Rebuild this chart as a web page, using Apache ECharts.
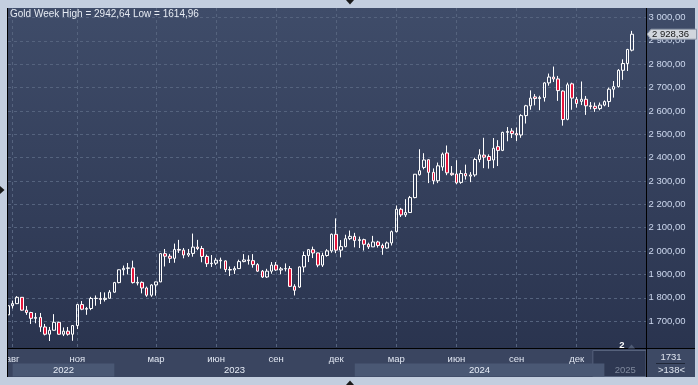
<!DOCTYPE html>
<html><head><meta charset="utf-8">
<script src="https://cdn.jsdelivr.net/npm/echarts@6/dist/echarts.min.js"></script>
<style>html,body{margin:0;padding:0;background:#c3cedf;overflow:hidden}#c{width:698px;height:385px}</style>
</head><body><div id="c"></div><script>
// ---- data (weekly Gold candles) ----
const titleText = 'Gold Week High = 2942,64 Low = 1614,96';
const opens = [1727,1766,1775,1802,1747,1737,1712,1716,1675,1644,1661,1695,1644,1657,1644,1681,1771,1751,1754,1797,
1797,1793,1798,1824,1865,1920,1926,1928,1863,1866,1842,1811,1855,1868,1989,1978,1969,2007,2004,1983,
1990,2017,2011,1977,1946,1948,1961,1958,1921,1919,1925,1955,1962,1959,1942,1914,1889,1914,1940,1919,
1924,1925,1849,1846,1932,1981,2006,1992,1940,1981,2001,2072,2004,2019,2053,2063,2045,2049,2029,2018,
2039,2024,2013,2035,2083,2179,2155,2165,2229,2327,2358,2391,2337,2301,2360,2420,2333,2330,2294,2332,
2321,2326,2392,2411,2405,2390,2447,2431,2508,2514,2503,2497,2580,2622,2660,2653,2657,2720,2745,2737,
2685,2564,2716,2650,2641,2650,2622,2620,2610,2625,2640,2693,2704,2774,2803,2860];
const closes = [1766,1775,1802,1747,1737,1712,1716,1675,1644,1661,1695,1644,1657,1644,1681,1771,1751,1754,1797,1798,
1793,1798,1824,1865,1920,1926,1928,1865,1866,1842,1811,1855,1868,1989,1978,1969,2007,2004,1983,1990,
2017,2011,1977,1946,1948,1961,1958,1921,1919,1925,1955,1962,1959,1942,1914,1889,1914,1940,1919,1924,
1925,1849,1832,1932,1981,2006,1992,1940,1981,2001,2072,2004,2019,2053,2063,2045,2049,2029,2018,2039,
2024,2013,2035,2083,2179,2155,2165,2229,2329,2344,2390,2337,2301,2365,2415,2335,2327,2292,2332,2322,
2326,2392,2412,2402,2388,2440,2431,2508,2512,2503,2497,2580,2622,2655,2653,2657,2720,2745,2737,2687,
2563,2712,2655,2632,2650,2622,2619,2610,2625,2640,2693,2704,2774,2803,2863,2928.36];
const lows = [1711,1754,1773,1745,1727,1688,1691,1654,1639,1614.96,1660,1642,1636,1638,1616,1666,1747,1727,1747,1766,
1773,1784,1797,1822,1862,1896,1900,1861,1853,1819,1804,1804,1809,1867,1934,1949,1950,1992,1969,1975,
1976,2004,1952,1932,1932,1940,1925,1910,1893,1902,1923,1952,1942,1929,1911,1885,1885,1903,1915,1901,
1913,1846,1810,1842,1909,1953,1970,1931,1932,1976,1993,1991,1973,2016,2047,2016,2013,2002,2009,2018,
2015,1984,2010,2024,2080,2146,2146,2164,2226,2323,2350,2291,2286,2291,2344,2325,2322,2286,2288,2306,
2295,2318,2380,2355,2353,2355,2364,2428,2470,2484,2471,2485,2546,2605,2624,2603,2640,2708,2724,2643,
2537,2560,2605,2614,2625,2583,2607,2596,2603,2620,2617,2657,2700,2733,2771,2855];
const highs = [1767,1788,1807,1803,1765,1740,1735,1735,1688,1675,1730,1697,1673,1675,1682,1774,1786,1761,1804,1810,
1824,1823,1833,1868,1921,1938,1949,1959,1890,1870,1848,1858,1869,1990,2009,1988,2032,2048,2013,2009,
2075,2048,2022,1985,1983,1971,1972,1960,1934,1935,1963,1987,1982,1987,1948,1919,1924,1953,1953,1932,
1947,1936,1858,1934,1997,2009,2019,1993,1993,2008,2075,2140,2047,2070,2088,2078,2062,2053,2036,2065,
2044,2032,2041,2088,2195,2185,2222,2236,2330,2436,2419,2393,2354,2379,2422,2452,2364,2389,2346,2370,
2338,2400,2436,2485,2414,2484,2475,2511,2531,2526,2529,2586,2626,2688,2672,2665,2723,2760,2790,2750,
2688,2721,2721,2660,2726,2664,2638,2636,2636,2645,2700,2728,2779,2821,2866,2942.64];
const slotCount = 139;                 // visible slots (incl. empty ones at the right)
const monthTickIndex  = [1,15,32,45,58,71,84,97,110,123];
const monthTickLabels = ['авг','ноя','мар','июн','сен','дек','мар','июн','сен','дек'];
const yearLabels      = ['2022','2023','2024','2025'];
const yearStartIndex  = [1,23,75,129];
const yMin = 1600, yMax = 3000, yStep = 100;
const barCountText = '1731', visibleText = '>138<', markerText = '2';

// ---- build ----
const categories = [];
for (let i = 0; i < slotCount; i++) {
  const d = new Date(Date.UTC(2022, 6, 25 + 7 * i));
  categories.push(d.toISOString().slice(0, 10));
}
const candles = opens.map((o, i) => [o, closes[i], lows[i], highs[i]]);
function fmtPrice(v) {
  if (v === yMin) return '';
  const p = Number(v).toFixed(2).split('.');
  return p[0].replace(/\B(?=(\d{3})+(?!\d))/g, ' ') + ',' + p[1];
}
const FONT = 'Liberation Sans';
const FS = 9.5;
const gridLine = { color: '#55637e', type: [3, 3], width: 1 };
const chart = echarts.init(document.getElementById('c'), null, { renderer: 'canvas', width: 698, height: 385 });
chart.setOption({
  animation: false,
  title: { text: titleText, left: 10, top: 9.5, padding: 0,
    textStyle: { fontSize: 10, fontWeight: 'normal', color: '#e6ebf3', fontFamily: FONT } },
  grid: [
    { left: 8, right: 52, top: 17.5, bottom: 40.5 },
    { left: 8, right: 52, top: 8, bottom: 36.5 }
  ],
  xAxis: [
    { type: 'category', gridIndex: 0, data: categories, boundaryGap: false, show: false },
    { type: 'category', gridIndex: 1, data: categories, boundaryGap: false,
      axisLine: { show: true, lineStyle: { color: '#000000', width: 1 } },
      axisTick: { show: false },
      axisLabel: { interval: (i) => monthTickIndex.includes(i),
        formatter: (v, i) => { const j = monthTickIndex.indexOf(i); return j < 0 ? '' : monthTickLabels[j]; },
        color: '#e0e6f1', fontSize: FS, fontFamily: FONT, margin: 5.5 },
      splitLine: { show: true, interval: (i) => monthTickIndex.includes(i), lineStyle: gridLine } }
  ],
  yAxis: [
    { type: 'value', gridIndex: 0, position: 'right', min: yMin, max: yMax, interval: yStep,
      axisLine: { show: false }, axisTick: { show: false },
      splitLine: { show: true, showMinLine: false, lineStyle: gridLine },
      axisLabel: { margin: 2.5, fontSize: FS, color: '#cdd8ee', fontFamily: FONT, formatter: fmtPrice } },
    { type: 'value', gridIndex: 1, show: false, min: 0, max: 1 }
  ],
  series: [{
    type: 'candlestick', xAxisIndex: 0, yAxisIndex: 0, data: candles, barWidth: 3, clip: true,
    itemStyle: { color: 'rgba(0,0,0,0)', color0: '#e5153b', borderColor: '#ffffff', borderColor0: '#ffffff', borderWidth: 1 }
  }]
});

// ---- panels / decorations positioned via the axes ----
const X = (i) => chart.convertToPixel({ xAxisIndex: 1 }, i);
const half = (X(1) - X(0)) / 2;
const lastClose = closes[closes.length - 1];
const yc = chart.convertToPixel({ yAxisIndex: 0 }, lastClose);
const grad = { type: 'linear', x: 0, y: 0, x2: 0, y2: 1,
  colorStops: [{ offset: 0, color: '#3f4c69' }, { offset: 1, color: '#2a344f' }] };
const g = [];
g.push({ type: 'rect', silent: true, z: -20, shape: { x: 8, y: 8, width: 638.5, height: 340.5 }, style: { fill: grad } });
g.push({ type: 'rect', silent: true, z: -20, shape: { x: 646.5, y: 8, width: 48.5, height: 340.5 }, style: { fill: grad } });
g.push({ type: 'rect', silent: true, z: -20, shape: { x: 8, y: 348.5, width: 638.5, height: 28.5 }, style: { fill: '#3a4560' } });
g.push({ type: 'rect', silent: true, z: -20, shape: { x: 646.5, y: 348.5, width: 48.5, height: 28.5 }, style: { fill: '#3d4964' } });
// 2025 box
g.push({ type: 'rect', silent: true, z: -15, shape: { x: X(127) - half, y: 350.5, width: 646 - (X(127) - half), height: 26 },
  style: { fill: '#2e3852', stroke: '#56627c', lineWidth: 1 } });
// year bands (alternate)
[0, 2].forEach((k) => {
  g.push({ type: 'rect', silent: true, z: -12, shape: { x: X(yearStartIndex[k]), y: 363.5, width: X(yearStartIndex[k + 1]) - X(yearStartIndex[k]), height: 13 },
    style: { fill: '#4a5874' } });
});
for (let k = 0; k < yearLabels.length; k++) {
  const x0 = X(yearStartIndex[k]);
  const x1 = k + 1 < yearLabels.length ? X(yearStartIndex[k + 1]) : 646;
  g.push({ type: 'text', silent: true, z: 5, x: (x0 + x1) / 2, y: 370,
    style: { text: yearLabels[k], fill: k === 3 ? '#7f899d' : '#e6ecf6', font: FS + 'px ' + FONT, align: 'center', verticalAlign: 'middle' } });
}
// frame mask on the left + separators
g.push({ type: 'rect', silent: true, z: 50, shape: { x: 0, y: 0, width: 7.5, height: 385 }, style: { fill: '#c3cedf' } });
const line = (x1, y1, x2, y2) => g.push({ type: 'line', silent: true, z: 51, shape: { x1, y1, x2, y2 }, style: { stroke: '#000000', lineWidth: 1 } });
line(7.5, 8, 7.5, 377);
line(646.5, 8, 646.5, 377);
line(646, 348.5, 695, 348.5);
// splitter handles
const tri = (pts) => g.push({ type: 'polygon', silent: true, z: 52, shape: { points: pts }, style: { fill: '#1a1a1a' } });
tri([[346, 0], [354, 0], [350, 4.5]]);
tri([[346, 385], [354, 385], [350, 380.5]]);
tri([[0, 186], [0, 194], [4.5, 190]]);
// event marker
g.push({ type: 'text', silent: true, z: 6, x: 622, y: 345.5,
  style: { text: markerText, fill: '#ffffff', font: 'bold ' + FS + 'px ' + FONT, align: 'center', verticalAlign: 'middle' } });
g.push({ type: 'polygon', silent: true, z: 6, shape: { points: [[628, 348.5], [631.5, 344.5], [635, 348.5]] }, style: { fill: '#4f5b75' } });
// bottom-right info
g.push({ type: 'text', silent: true, z: 6, x: 671, y: 357.5,
  style: { text: barCountText, fill: '#dfe5ef', font: FS + 'px ' + FONT, align: 'center', verticalAlign: 'middle' } });
g.push({ type: 'line', silent: true, z: 6, shape: { x1: 656, y1: 363.5, x2: 685, y2: 363.5 }, style: { stroke: '#1f2738', lineWidth: 1 } });
g.push({ type: 'text', silent: true, z: 6, x: 671.5, y: 370.5,
  style: { text: visibleText, fill: '#dfe5ef', font: FS + 'px ' + FONT, align: 'center', verticalAlign: 'middle' } });
// last price label
g.push({ type: 'polygon', silent: true, z: 20, shape: { points: [[647, yc], [651, yc - 5], [696.5, yc - 5], [696.5, yc + 5], [651, yc + 5]] },
  style: { fill: '#d2d6dd', stroke: '#8e97a8', lineWidth: 1 } });
g.push({ type: 'text', silent: true, z: 21, x: 652, y: yc + 0.5,
  style: { text: fmtPrice(lastClose), fill: '#151515', font: FS + 'px ' + FONT, align: 'left', verticalAlign: 'middle' } });
chart.setOption({ graphic: { elements: g } });
</script></body></html>
